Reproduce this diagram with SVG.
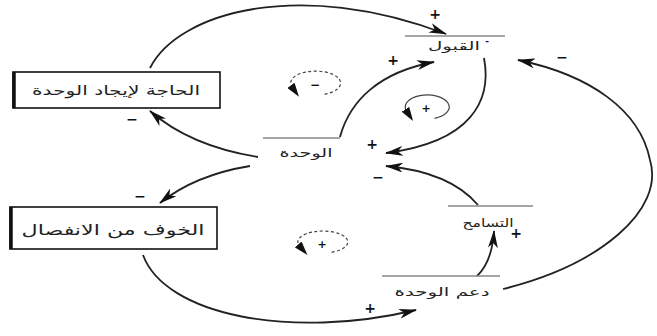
<svg xmlns="http://www.w3.org/2000/svg" width="657" height="336" viewBox="0 0 657 336">
<style>
  .bg{fill:#ffffff}
  .box{fill:#ffffff;stroke:#111;stroke-width:1.6}
  .boxedge{stroke:#111;stroke-width:3.5;fill:none}
  .lbl{font-family:"DejaVu Sans",sans-serif;fill:#222;text-anchor:middle}
  .bl{font-size:13px}
  .vl{font-size:11.5px}
  .sg{font-family:"DejaVu Sans",sans-serif;font-size:14px;fill:#111;text-anchor:middle;font-weight:bold}
  .bar{stroke:#888;stroke-width:1.6}
  .cn{fill:none;stroke:#222;stroke-width:1.8}
  .lp{fill:none;stroke:#444;stroke-width:1.2}
  .dash{stroke-dasharray:3 2.5}
</style>
<defs>
  <marker id="arr" viewBox="0 0 18 10" refX="17" refY="5" markerWidth="18" markerHeight="10" markerUnits="userSpaceOnUse" orient="auto">
    <path d="M0,0 L18,5 L0,10 L5,5 Z" fill="#111"/>
  </marker>
  <marker id="larr" viewBox="0 0 14 9" refX="2" refY="4.5" markerWidth="14" markerHeight="9" markerUnits="userSpaceOnUse" orient="auto">
    <path d="M0,0 L14,4.5 L0,9 Z" fill="#111"/>
  </marker>
</defs>
<rect class="bg" x="0" y="0" width="657" height="336"/>

<g id="connectors">
  <path id="c-need-accept" class="cn" d="M150,68 C178,12 300,-22 446,34" marker-end="url(#arr)"/>
  <path id="c-unity-need" class="cn" d="M258,157 Q190,146 150,111" marker-end="url(#arr)"/>
  <path id="c-unity-fear" class="cn" d="M250,166 Q195,175 160,203" marker-end="url(#arr)"/>
  <path id="c-fear-support" class="cn" d="M143,255 C165,315 290,340 416,310" marker-end="url(#arr)"/>
  <path id="c-support-tol" class="cn" d="M477,276 Q492,262 494,231" marker-end="url(#arr)"/>
  <path id="c-tol-unity" class="cn" d="M478,205 Q450,172 386,166" marker-end="url(#arr)"/>
  <path id="c-accept-unity" class="cn" d="M484,58 C492,100 472,142 386,153" marker-end="url(#arr)"/>
  <path id="c-unity-accept" class="cn" d="M340,137 C350,100 380,72 434,62" marker-end="url(#arr)"/>
  <path id="c-support-accept" class="cn" d="M503,289 C600,265 665,210 650,160 C640,110 590,75 518,60" marker-end="url(#arr)"/>
</g>

<g id="signs">
  <text class="sg" x="435" y="19">+</text>
  <text class="sg" x="393" y="65">+</text>
  <text class="sg" x="562" y="62">−</text>
  <text class="sg" x="487" y="44" style="font-size:9px">-</text>
  <text class="sg" x="372" y="149">+</text>
  <text class="sg" x="378" y="182">−</text>
  <text class="sg" x="132" y="124">−</text>
  <text class="sg" x="140" y="201">−</text>
  <text class="sg" x="516" y="238">+</text>
  <text class="sg" x="370" y="313">+</text>
</g>

<g id="loop-r1">
  <path class="lp dash" d="M324.6,94.3 A25 12 0 1 0 292,87" marker-end="url(#larr)"/>
  <text class="sg" x="315" y="89" style="font-size:12px">−</text>
</g>
<g id="loop-r2">
  <path class="lp" d="M434.5,118.3 A22 12 0 1 0 406.5,111" marker-end="url(#larr)"/>
  <text class="sg" x="426" y="112" style="font-size:11px">+</text>
</g>
<g id="loop-r3">
  <path class="lp dash" d="M331.6,252.3 A25 11 0 1 0 299.5,246" marker-end="url(#larr)"/>
  <text class="sg" x="322" y="248" style="font-size:11px">+</text>
</g>

<g id="node-need">
  <rect class="box" x="13" y="72" width="207" height="36"/>
  <line class="boxedge" x1="14" y1="72" x2="14" y2="108"/>
  <text class="lbl bl" x="116" y="95" textLength="168" lengthAdjust="spacingAndGlyphs">الحاجة لإيجاد الوحدة</text>
</g>
<g id="node-fear">
  <rect class="box" x="10" y="207" width="207" height="42"/>
  <line class="boxedge" x1="11" y1="207" x2="11" y2="249"/>
  <text class="lbl" x="113" y="235" style="font-size:15px" textLength="183" lengthAdjust="spacingAndGlyphs">الخوف من الانفصال</text>
</g>
<g id="node-accept">
  <line class="bar" x1="405" y1="36" x2="505" y2="36"/>
  <text class="lbl vl" x="454" y="50" textLength="52" lengthAdjust="spacingAndGlyphs">القبول</text>
</g>
<g id="node-unity">
  <line class="bar" x1="263" y1="138" x2="340" y2="138"/>
  <text class="lbl vl" x="306" y="157" textLength="53" lengthAdjust="spacingAndGlyphs">الوحدة</text>
</g>
<g id="node-tolerance">
  <line class="bar" x1="448" y1="206" x2="533" y2="206"/>
  <text class="lbl vl" x="488" y="227" textLength="51" lengthAdjust="spacingAndGlyphs">التسامح</text>
</g>
<g id="node-support">
  <line class="bar" x1="382" y1="276" x2="500" y2="276"/>
  <text class="lbl vl" x="442" y="296" textLength="95" lengthAdjust="spacingAndGlyphs">دعم الوحدة</text>
</g>
</svg>
